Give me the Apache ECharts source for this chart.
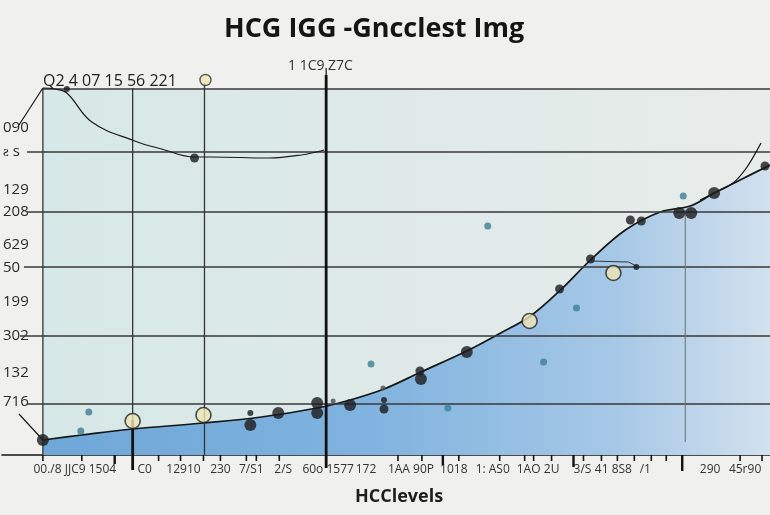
<!DOCTYPE html>
<html>
<head>
<meta charset="utf-8">
<script src="https://cdn.jsdelivr.net/npm/echarts@6/dist/echarts.min.js"></script>
<style>
html,body{margin:0;padding:0;background:#f0f0ee;}
#chart{width:770px;height:515px;}
</style>
</head>
<body>
<div id="chart"></div>
<script>
// ---- Data (axis units: x = HCG level scale 0..770, y = value scale 0..366) ----
const titleText = 'HCG IGG -Gncclest Img';
const subText = '1 1C9 Z7C';
const topNote = 'Q2 4 07 15 56 221';
const xName = 'HCClevels';

// x tick labels (position, text)
const xLabelPos = [73, 143, 182, 219, 250, 282, 327, 365, 410, 453, 492, 528, 551, 582, 613, 645, 710, 745];
const xLabelText = ['00./8 JJC9 1504', 'C0', '12910', '230', '7/S1', '2/S', '60o 1577', '172', '1AA 90P', '1018', '1: AS0', '1AO', '2U', '3/S', '41 8S8', '/1', '290', '45r90'];
// small ticks and heavier ticks (position, depth below axis)
const xTicks = [41, 80, 157, 179, 202, 219, 245, 255, 278, 397, 421, 458, 499, 524, 533, 551, 583, 601, 617, 634, 651, 666, 740, 762];
const xHeavyTicks = [113, 442, 573, 682];
const xHeavyDepth = [9, 10, 12, 16];

// y tick labels (position, text)
const yLabelPos = [327, 303, 265, 243, 210, 187, 153, 119, 82, 53];
const yLabelText = ['090', 'ƨ s', '129', '208', '629', '50', '199', '302', '132', '716'];

// reference lines
const gridY = [366, 303, 243, 188, 119, 51];
const gridStartX = [41, 25, 25, 22, 18, 25];
const vLineX = [41, 131, 203];
const vLineFrom = [0, -15, 0];
const vLineTo = [366, 367, 372];
const thinLineX = 685, thinLineFrom = 13, thinLineTo = 245;
const boldLineX = 325, boldFrom = -13, boldTo = 380, boldCap = 387;
const thickFootX = 131, thickFootFrom = -15, thickFootTo = 35;

// main rising curve (area)
const mainCurve = [[41, 15], [80, 20], [131, 26], [202, 32], [260, 38], [316, 47], [349, 55], [383, 66], [420, 83], [466, 104], [500, 122], [530, 139], [560, 165], [590, 195], [625, 225], [660, 243], [690, 249], [714, 262], [740, 275], [770, 290]];
// steeper upper branch
const upperBranch = [[700, 255], [714, 262], [733, 272], [747, 288], [761, 312]];
// upper-left decreasing curve
const topCurve = [[41, 367], [53, 366], [65, 362], [90, 333], [133, 314], [160, 306], [193, 298], [210, 298], [267, 297], [300, 300], [323, 305]];
// leader strokes & hook
const leaders = [[17, 330], [41, 367], null, [17, 41], [41, 15]];
const hook = [[590, 194], [628, 193], [636, 189]];

// points
const blackLarge = [[41, 15], [249, 30], [277, 42], [316, 52], [316, 42], [349, 50], [420, 76], [466, 103], [679, 242], [691, 242], [714, 262]];
const blackMid = [[193, 297], [383, 46], [419, 84], [559, 166], [590, 196], [630, 235], [641, 234], [765, 289]];
const blackSmall = [[65, 366], [249, 42], [383, 55], [636, 188]];
const grayDots = [[332, 54], [382, 67]];
const tealDots = [[87, 43], [79, 24], [370, 91], [447, 47], [487, 229], [543, 93], [576, 147], [683, 259]];
const creamDots = [[131, 34], [202, 40], [529, 134], [613, 182]];
const creamTop = [[204, 375]];

// ---- Build chart ----
const xMap = {}; xLabelPos.forEach((p, i) => xMap[p] = xLabelText[i]);
const yMap = {}; yLabelPos.forEach((p, i) => yMap[p] = yLabelText[i]);

function segments(list) {
  const out = [];
  list.forEach((s, i) => { if (i) out.push(null); out.push(s[0], s[1]); });
  return out;
}
const gridSegs = segments(gridY.map((y, i) => [[gridStartX[i], y], [770, y]]));
const vSegs = segments(vLineX.map((x, i) => [[x, vLineFrom[i]], [x, vLineTo[i]]]));
const tickSegs = segments(xTicks.map(x => [[x, 0], [x, -6]]));
const heavyTickSegs = segments(xHeavyTicks.map((x, i) => [[x, 0], [x, -xHeavyDepth[i]]]));
const boldSegs = segments([[[boldLineX, boldFrom], [boldLineX, boldTo]], [[thickFootX, thickFootFrom], [thickFootX, thickFootTo]]]);

function strokes(data, color, width, z) {
  return { type: 'line', data: data, symbol: 'none', clip: false, connectNulls: false, silent: true, z: z || 3, lineStyle: { color: color, width: width }, emphasis: { disabled: true } };
}

const chart = echarts.init(document.getElementById('chart'));
chart.setOption({
  backgroundColor: '#f0f0ee',
  animation: false,
  title: [
    { text: titleText, left: 219, top: 11, textStyle: { fontFamily: 'Open Sans', fontSize: 27, fontWeight: 'bold', color: '#151515' } },
    { text: subText, left: 283, top: 54, textStyle: { fontFamily: 'Open Sans', fontSize: 14, fontWeight: 'normal', color: '#333' } },
    { text: topNote, left: 38, top: 68, textStyle: { fontFamily: 'Open Sans', fontSize: 16, fontWeight: 'normal', color: '#222' } },
    { text: xName, left: 350, top: 483, textStyle: { fontFamily: 'Open Sans', fontSize: 18, fontWeight: 'bold', color: '#1e1e1e' } }
  ],
  grid: { left: 0, right: 0, top: 89, bottom: 60 },
  xAxis: {
    type: 'value', min: 0, max: 770,
    axisLine: { show: true, onZero: false, lineStyle: { color: '#151515', width: 1.6 } },
    axisTick: { show: false },
    axisLabel: { show: true, customValues: xLabelPos, formatter: v => xMap[v] || '', margin: 9, fontFamily: 'Open Sans', fontSize: 12, color: '#333' },
    splitLine: { show: false }
  },
  yAxis: {
    type: 'value', min: 0, max: 366,
    axisLine: { show: false }, axisTick: { show: false }, splitLine: { show: false },
    axisLabel: { show: true, inside: true, customValues: yLabelPos, formatter: v => yMap[v] || '', margin: 1, fontFamily: 'Open Sans', fontSize: 15, color: '#2a2a2a' }
  },
  series: [
    {
      type: 'line', data: [], z: 0, silent: true,
      markArea: {
        silent: true,
        itemStyle: {
          color: { type: 'linear', x: 0, y: 0, x2: 1, y2: 0, colorStops: [{ offset: 0, color: '#d6e8e7' }, { offset: 0.5, color: '#dfeae8' }, { offset: 1, color: '#e8ecea' }] }
        },
        data: [[{ coord: [41, 0] }, { coord: [770, 366] }]]
      }
    },
    {
      type: 'line', data: mainCurve, smooth: 0.35, symbol: 'none', z: 2,
      lineStyle: { color: '#161616', width: 1.7 },
      areaStyle: {
        origin: 'start',
        color: { type: 'linear', x: 0, y: 0, x2: 1, y2: 0, colorStops: [{ offset: 0, color: '#6ea7d8' }, { offset: 0.45, color: '#80b3df' }, { offset: 0.8, color: '#a8c9e7' }, { offset: 1, color: '#d2e1ee' }] },
        opacity: 1
      }
    },
    strokes(gridSegs, '#3a3a3a', 1.3, 3),
    strokes(vSegs, '#363636', 1.3, 3),
    strokes([[thinLineX, thinLineFrom], [thinLineX, thinLineTo]], '#6a6f70', 1, 3),
    strokes(tickSegs, '#151515', 1.6, 3),
    strokes(heavyTickSegs, '#111', 2.4, 3),
    strokes(boldSegs, '#111', 2.8, 3),
    strokes([[boldLineX, boldTo], [boldLineX, boldCap]], '#111', 1.2, 3),
    { type: 'line', data: upperBranch, smooth: 0.3, symbol: 'none', z: 4, lineStyle: { color: '#161616', width: 1.3 } },
    { type: 'line', data: topCurve, smooth: 0.4, symbol: 'none', z: 4, clip: false, lineStyle: { color: '#1a1a1a', width: 1.2 } },
    { type: 'line', data: leaders, symbol: 'none', z: 4, clip: false, connectNulls: false, lineStyle: { color: '#1a1a1a', width: 1.2 } },
    { type: 'line', data: hook, symbol: 'none', z: 4, lineStyle: { color: '#2a3a4a', width: 1 } },
    { type: 'scatter', data: tealDots, symbolSize: 7, z: 5, itemStyle: { color: '#3f7e94' } },
    { type: 'scatter', data: grayDots, symbolSize: 5, z: 5, itemStyle: { color: '#4a4f55' } },
    { type: 'scatter', data: blackLarge, symbolSize: 12, z: 6, itemStyle: { color: '#1b1b1d' } },
    { type: 'scatter', data: blackMid, symbolSize: 9, z: 6, itemStyle: { color: '#1b1b1d' } },
    { type: 'scatter', data: blackSmall, symbolSize: 6, z: 6, clip: false, itemStyle: { color: '#1b1b1d' } },
    { type: 'scatter', data: creamDots, symbolSize: 15, z: 7, itemStyle: { color: '#efe6b5', borderColor: '#222', borderWidth: 1.6 } },
    { type: 'scatter', data: creamTop, symbolSize: 11, z: 7, clip: false, itemStyle: { color: '#efe6b5', borderColor: '#333', borderWidth: 1.4 } }
  ]
});
</script>
</body>
</html>
